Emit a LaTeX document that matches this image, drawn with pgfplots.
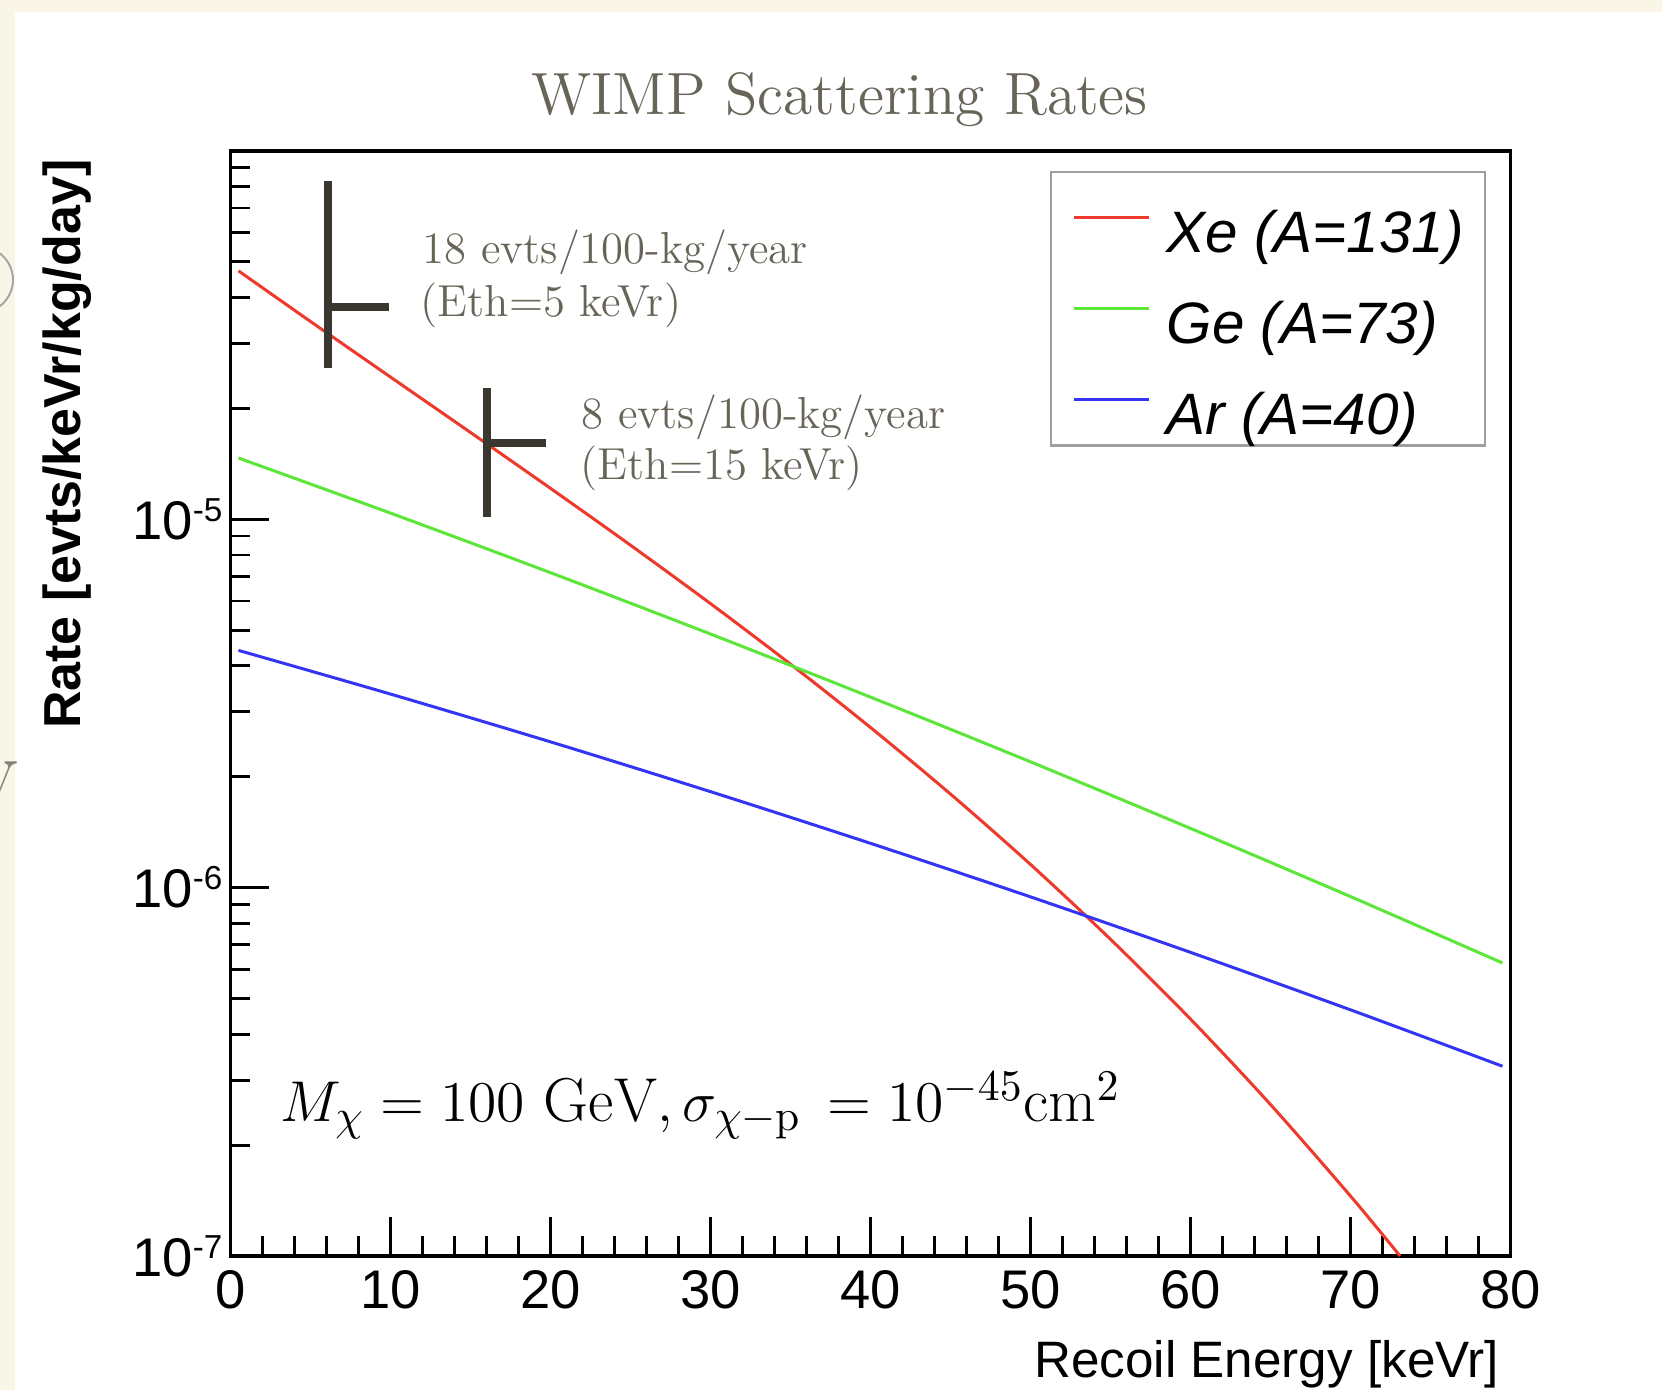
\documentclass[border=0pt]{standalone}
\usepackage{pgfplots}
\pgfplotsset{compat=1.18}
\usepackage{fontspec}
\setsansfont{Liberation Sans}
\definecolor{cream}{RGB}{250,246,231}
\definecolor{titlegray}{RGB}{104,100,88}
\definecolor{markdark}{RGB}{58,55,48}
\definecolor{xered}{RGB}{238,58,44}
\definecolor{gegreen}{RGB}{92,230,58}
\definecolor{arblue}{RGB}{52,52,245}
\newcommand{\tenexp}[1]{10\raisebox{4.5pt}{\fontsize{8.3}{9}\selectfont #1}}
\begin{document}
\begin{tikzpicture}
\path[use as bounding box] (-57.625pt,-33.45pt) rectangle (357.875pt,314pt);
\clip (-57.625pt,-33.45pt) rectangle (357.875pt,314pt);
\fill[cream] (-57.625pt,-33.45pt) rectangle (357.875pt,314pt);
\fill[white] (-53.875pt,-33.45pt) rectangle (357.875pt,311pt);
\draw[gray!70, line width=0.5pt] (-57.66pt,237.46pt) arc[start angle=-53, end angle=53, radius=8.25pt];
\node[anchor=base east, font=\fontsize{22}{24}\selectfont, text=titlegray!80, inner sep=0pt] at (-52.9pt,114pt) {y};
\begin{axis}[
  at={(0pt,0pt)}, anchor=south west,
  scale only axis, width=320pt, height=276.3pt,
  xmin=0, xmax=80, ymin=1e-7, ymax=1e-4, ymode=log,
  clip mode=individual,
  axis line style={line width=0.9pt, black},
  tick pos=left, tick align=inside,
  major tick length=9.75pt, minor tick length=4.9pt,
  tick style={black, line width=0.7pt},
  xtick={0,10,...,80}, minor x tick num=4,
  ytick={1e-7,1e-6,1e-5},
  yticklabels={\tenexp{-7},\tenexp{-6},\tenexp{-5}},
  minor ytick={2e-7,3e-7,4e-7,5e-7,6e-7,7e-7,8e-7,9e-7,2e-6,3e-6,4e-6,5e-6,6e-6,7e-6,8e-6,9e-6,2e-5,3e-5,4e-5,5e-5,6e-5,7e-5,8e-5,9e-5},
  /pgf/number format/assume math mode=true,
  tick label style={font=\fontsize{13.6}{16}\selectfont\sffamily},
  yticklabel style={xshift=1.5pt},
  title={WIMP Scattering Rates},
  title style={at={(axis description cs:0.476,1)}, anchor=base, yshift=3.2pt, inner sep=0pt,
    font=\fontsize{14.9}{17}\selectfont, text=titlegray},
  xlabel={Recoil Energy [keVr]},
  xlabel style={at={(axis description cs:0.9918,0)}, anchor=base east, yshift=-30.45pt, inner sep=0pt,
    font=\fontsize{12.8}{15}\selectfont\sffamily},
  ylabel={Rate [evts/keVr/kg/day]},
  ylabel style={at={(axis description cs:-0.1278,0.9928)}, anchor=east, inner sep=0pt,
    font=\fontsize{13}{15}\selectfont\sffamily\bfseries},
  legend cell align=left,
  legend style={at={(axis description cs:0.981,0.9822)}, anchor=north east,
    draw=gray!75, line width=0.6pt, fill=white,
    inner xsep=5.3pt, inner ysep=0.15pt,
    font=\fontsize{14.6}{17}\selectfont\sffamily\itshape,
    row sep=0pt, column sep=4.15pt,
    nodes={inner sep=0pt, text height=20.1pt, text depth=2.6pt}},
  legend image code/.code={\draw[#1, line width=0.75pt] (0pt,0pt) -- (18.75pt,0pt);},
]
\addplot[xered, line width=0.75pt, smooth] coordinates {
(0.5,4.722e-5) (5,3.442e-5) (10,2.432e-5) (15,1.720e-5) (20,1.213e-5) (25,8.503e-6)
(30,5.902e-6) (35,4.042e-6) (40,2.721e-6) (45,1.795e-6) (50,1.156e-6) (55,7.241e-7)
(60,4.397e-7) (65,2.578e-7) (70,1.455e-7) (73.1,1.0e-7)};
\addlegendentry{Xe (A=131)}
\addplot[gegreen, line width=0.75pt, smooth] coordinates {
(0.5,1.466e-5) (10,1.039e-5) (20,7.160e-6) (30,4.880e-6) (40,3.290e-6) (50,2.195e-6)
(60,1.448e-6) (70,9.456e-7) (79.5,6.245e-7)};
\addlegendentry{Ge (A=73)}
\addplot[arblue, line width=0.75pt, smooth] coordinates {
(0.5,4.405e-6) (10,3.353e-6) (20,2.487e-6) (30,1.822e-6) (40,1.319e-6) (50,9.439e-7)
(60,6.673e-7) (70,4.659e-7) (79.5,3.275e-7)};
\addlegendentry{Ar (A=40)}
% threshold markers
\addplot[markdark, line width=2pt, forget plot] coordinates {(6.125,8.28e-5) (6.125,2.567e-5)};
\addplot[markdark, line width=2pt, forget plot] coordinates {(6.125,3.758e-5) (9.89,3.758e-5)};
\addplot[markdark, line width=2pt, forget plot] coordinates {(16.04,2.265e-5) (16.04,1.012e-5)};
\addplot[markdark, line width=2pt, forget plot] coordinates {(16.04,1.607e-5) (19.7,1.607e-5)};
\node[anchor=base west, inner sep=0pt, font=\fontsize{11.2}{13}\selectfont, text=titlegray] at (axis cs:11.95,4.950e-5) {18 evts/100-kg/year};
\node[anchor=base west, inner sep=0pt, font=\fontsize{11.2}{13}\selectfont, text=titlegray] at (axis cs:11.85,3.544e-5) {(Eth=5 keVr)};
\node[anchor=base west, inner sep=0pt, font=\fontsize{11.2}{13}\selectfont, text=titlegray] at (axis cs:21.9,1.765e-5) {8 evts/100-kg/year};
\node[anchor=base west, inner sep=0pt, font=\fontsize{11.2}{13}\selectfont, text=titlegray] at (axis cs:21.85,1.278e-5) {(Eth=15 keVr)};
\node[anchor=base west, inner sep=0pt, font=\fontsize{15.5}{18}\selectfont] at (axis cs:3.09,2.317e-7)
  {$M_\chi = 100\ \mathrm{GeV}, \sigma_{\chi-\mathrm{p}}\, = 10^{-45}\mathrm{cm}^2$};
\end{axis}
\end{tikzpicture}
\end{document}
